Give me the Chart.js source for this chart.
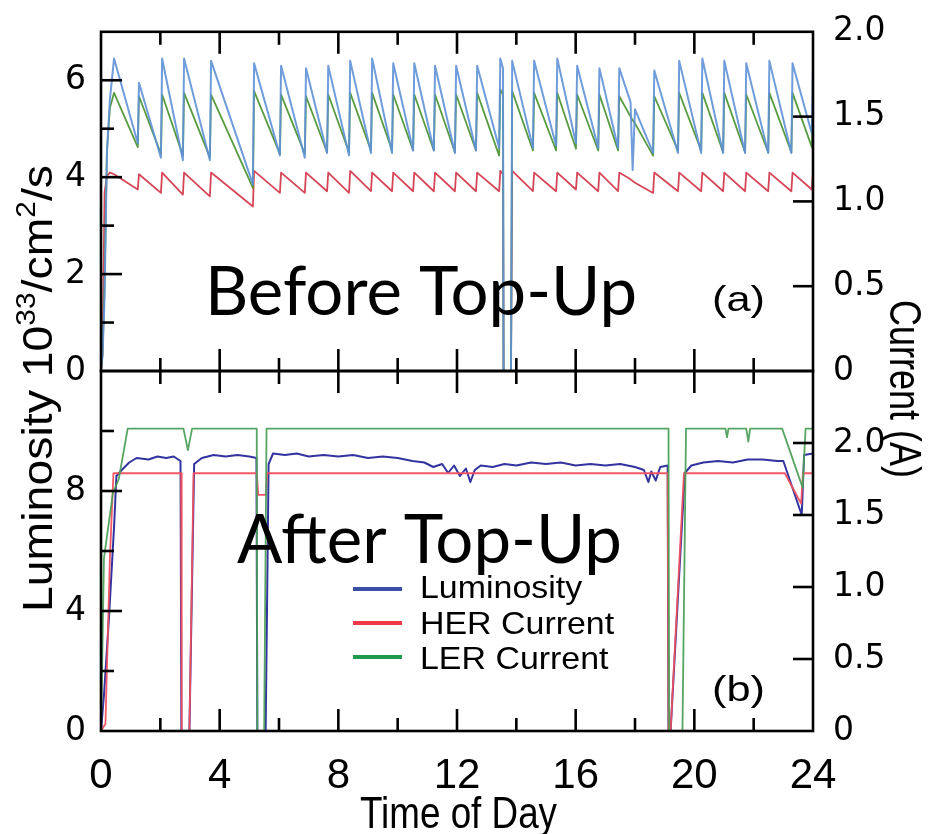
<!DOCTYPE html>
<html><head><meta charset="utf-8">
<script src="https://cdn.jsdelivr.net/npm/chart.js@4"></script>
<style>
html,body{margin:0;padding:0;background:#fff;}
#wrap{position:relative;width:942px;height:834px;overflow:hidden;}
canvas{position:absolute;left:0;top:0;}
</style></head><body>
<div id="wrap"><canvas id="cTop" width="942" height="834"></canvas><canvas id="cBot" width="942" height="834"></canvas></div>
<script>
// ---------- DATA ----------
const xTickLabels = [0, 4, 8, 12, 16, 20, 24];
const topLumTickLabels = [0, 2, 4, 6];
const botLumTickLabels = [0, 4, 8];
const currentTickLabels = [0, 0.5, 1.0, 1.5, 2.0];
const seriesNames = ['Luminosity', 'HER Current', 'LER Current'];

// Before Top-Up (panel a): time of day (h)
const topTime = [
  0, 0.05, 0.12, 0.20, 0.30, 0.44,
  1.24, 1.28,  2.02, 2.06,  2.76, 2.80,  3.67, 3.71,  5.12, 5.16,
  6.03, 6.07,  6.87, 6.91,  7.62, 7.66,  8.36, 8.40,  9.10, 9.14,
  9.81, 9.85,  10.52, 10.56,  11.22, 11.26,  11.93, 11.97,  12.64, 12.68,  13.42, 13.46,
  13.55, 13.57, 13.82, 13.86,
  14.56, 14.60,  15.34, 15.38,  16.01, 16.05,  16.76, 16.80,  17.43, 17.47,
  17.85, 17.92, 18.00,
  18.61, 18.65,  19.45, 19.49,  20.23, 20.27,  20.97, 21.01,  21.71, 21.75,  22.49, 22.53,  23.27, 23.31,
  23.96, 24.0
];
// luminosity (10^33/cm^2/s)
const topLum = [
  0, 0.3, 1.5, 4.5, 5.6, 6.45,
  4.7, 5.95,  4.4, 6.45,  4.35, 6.45,  4.35, 6.4,  3.85, 6.35,
  4.45, 6.3,  4.4, 6.25,  4.5, 6.3,  4.45, 6.4,  4.5, 6.45,
  4.5, 6.35,  4.55, 6.35,  4.55, 6.3,  4.5, 6.3,  4.55, 6.3,  4.6, 6.45,
  6.25, 0, 0, 6.4,
  4.6, 6.4,  4.65, 6.45,  4.7, 6.3,  4.6, 6.25,  4.6, 6.25,
  5.55, 4.15, 5.4,
  4.5, 6.2,  4.5, 6.4,  4.5, 6.45,  4.5, 6.4,  4.5, 6.35,  4.5, 6.4,  4.5, 6.35,
  4.9, 6.3
];
// HER current (A)
const topHer = [
  0, 0.1, 1.05, 1.15, 1.17, 1.16,
  1.07, 1.16,  1.05, 1.17,  1.04, 1.17,  1.03, 1.17,  0.97, 1.18,
  1.05, 1.17,  1.05, 1.17,  1.06, 1.17,  1.05, 1.18,  1.06, 1.17,
  1.06, 1.17,  1.06, 1.17,  1.06, 1.17,  1.06, 1.17,  1.06, 1.17,  1.06, 1.18,
  1.16, 0, 0, 1.18,
  1.06, 1.17,  1.06, 1.17,  1.07, 1.17,  1.06, 1.17,  1.06, 1.17,
  1.13, 1.12, 1.11,
  1.05, 1.17,  1.06, 1.17,  1.06, 1.17,  1.06, 1.17,  1.06, 1.17,  1.06, 1.17,  1.06, 1.17,
  1.07, 1.17
];
// LER current (A)
const topLer = [
  0, 0.1, 0.5, 1.3, 1.55, 1.64,
  1.32, 1.62,  1.28, 1.63,  1.27, 1.64,  1.26, 1.63,  1.08, 1.65,
  1.28, 1.63,  1.28, 1.62,  1.29, 1.63,  1.29, 1.64,  1.30, 1.64,
  1.30, 1.63,  1.30, 1.63,  1.30, 1.63,  1.29, 1.63,  1.30, 1.64,  1.27, 1.66,
  1.63, 0, 0, 1.65,
  1.30, 1.64,  1.30, 1.64,  1.31, 1.63,  1.30, 1.63,  1.30, 1.62,
  1.50, 1.48, 1.46,
  1.27, 1.62,  1.30, 1.64,  1.30, 1.64,  1.29, 1.64,  1.29, 1.63,  1.29, 1.64,  1.29, 1.64,
  1.32, 1.60
];

// After Top-Up (panel b)
const botLumTime = [0, 0.1, 0.27, 0.44, 0.52, 0.7, 0.95, 1.2, 1.6, 1.9, 2.2, 2.45, 2.68, 2.71, 2.98, 3.14, 3.4, 3.8, 4.2, 4.6, 5.0, 5.24, 5.27, 5.55, 5.65, 5.8,
  6.2, 6.6, 7.0, 7.5, 8.0, 8.5, 9.0, 9.5, 10.0, 10.5, 10.9, 11.2, 11.5, 11.7, 11.9, 12.1, 12.3, 12.45, 12.6, 12.8, 13.2, 13.6, 14.0, 14.5, 15.0, 15.5, 16.0, 16.5, 17.0, 17.5,
  18.0, 18.3, 18.45, 18.55, 18.7, 18.85, 19.1, 19.13, 19.2, 19.45, 19.68, 19.9, 20.3, 20.8, 21.3, 21.8, 22.3, 22.8, 23.0, 23.62, 23.7, 24.0];
const botLum = [0, 1.2, 3.8, 6.8, 8.5, 8.7, 8.95, 9.1, 9.05, 9.15, 9.1, 9.15, 9.0, 0, 0, 8.9, 9.1, 9.2, 9.15, 9.2, 9.15, 9.1, 0, 0, 8.9, 9.25,
  9.2, 9.25, 9.15, 9.2, 9.15, 9.2, 9.1, 9.15, 9.1, 9.0, 8.95, 8.8, 8.9, 8.6, 8.85, 8.5, 8.75, 8.3, 8.7, 8.85, 8.8, 8.9, 8.85, 8.95, 8.9, 8.95, 8.85, 8.9, 8.85, 8.9,
  8.8, 8.7, 8.3, 8.65, 8.35, 8.8, 8.85, 0, 0, 4.5, 8.6, 8.85, 8.95, 9.0, 8.95, 9.05, 9.05, 9.0, 9.0, 7.2, 9.2, 9.25];
const botHerTime = [0, 0.15, 0.3, 0.42, 2.7, 2.72, 2.98, 3.12, 5.25, 5.3, 5.55, 5.6, 19.1, 19.13, 19.2, 19.65, 23.05, 23.6, 23.66, 24.0];
const botHer = [0, 0.05, 1.2, 1.79, 1.79, 0, 0, 1.79, 1.79, 1.64, 1.64, 1.79, 1.79, 0, 0, 1.79, 1.79, 1.58, 1.79, 1.79];
const botLerTime = [0, 0.1, 0.4, 0.6, 0.9, 2.78, 2.93, 3.07, 5.25, 5.27, 5.5, 5.58, 19.13, 19.15, 19.6, 19.72, 21.05, 21.1, 21.15, 21.75, 21.82, 21.88, 22.96, 23.65, 23.75, 24.0];
const botLer = [0, 1.2, 1.65, 1.75, 2.1, 2.1, 1.95, 2.1, 2.1, 0, 0, 2.1, 2.1, 0, 0, 2.1, 2.1, 2.04, 2.1, 2.1, 2.01, 2.1, 2.1, 1.69, 2.1, 2.1];

// ---------- HELPERS ----------
const pts = (xs, ys) => xs.map((x, i) => ({x: x, y: ys[i]}));
const TICKFONT = {family: "'DejaVu Sans', sans-serif", size: 33};
const XFONT = {family: "'Liberation Sans', Arial, sans-serif", size: 42};
const curFmt = v => currentTickLabels.includes(v) ? (v === 0 ? '0' : v.toFixed(1)) : '';

const frameTicks = {
  id: 'frameTicks',
  afterDatasetsDraw(chart, args, o) {
    const {ctx, chartArea: a, scales} = chart;
    ctx.save();
    ctx.strokeStyle = '#000';
    ctx.lineWidth = 2.6;
    ctx.lineCap = 'butt';
    const seg = (x1, y1, x2, y2) => { ctx.beginPath(); ctx.moveTo(x1, y1); ctx.lineTo(x2, y2); ctx.stroke(); };
    const xs = scales.x;
    xs.ticks.forEach(t => {
      if (t.value <= xs.min || t.value >= xs.max) return;
      const p = xs.getPixelForValue(t.value);
      const len = xTickLabels.includes(t.value) ? 22 : 13;
      seg(p, a.bottom, p, a.bottom - len);
      seg(p, a.top, p, a.top + len);
    });
    const yl = scales.yL;
    yl.ticks.forEach(t => {
      if (t.value <= yl.min || t.value >= yl.max) return;
      const p = yl.getPixelForValue(t.value);
      const len = o.leftLabels.includes(t.value) ? 21 : 13;
      seg(a.left, p, a.left + len, p);
    });
    const yr = scales.yR;
    yr.ticks.forEach(t => {
      if (t.value <= yr.min || t.value >= yr.max) return;
      const p = yr.getPixelForValue(t.value);
      seg(a.right, p, a.right - 20, p);
    });
    ctx.strokeRect(a.left, a.top, a.right - a.left, a.bottom - a.top);
    ctx.restore();
  }
};

function scalesFor(cfg) {
  return {
    x: {
      type: 'linear', min: 0, max: 24,
      afterFit: s => { s.height = cfg.xH; },
      ticks: {display: cfg.showX, stepSize: 2, autoSkip: false, maxRotation: 0, minRotation: 0,
        padding: 12, color: '#000', font: XFONT,
        callback: v => xTickLabels.includes(v) ? String(v) : ''},
      grid: {display: false}, border: {display: false}
    },
    yL: {
      type: 'linear', position: 'left', min: 0, max: cfg.lMax,
      afterFit: s => { s.width = 101; },
      ticks: {stepSize: cfg.lStep, autoSkip: false, padding: 7, color: '#000', font: TICKFONT,
        callback: v => cfg.lLabels.includes(v) ? String(v) : ''},
      grid: {display: false}, border: {display: false}
    },
    yR: {
      type: 'linear', position: 'right', min: 0, max: cfg.rMax,
      afterFit: s => { s.width = 129; },
      ticks: {stepSize: 0.5, autoSkip: false, padding: 12, color: '#000', font: TICKFONT, callback: curFmt},
      grid: {display: false}, border: {display: false}
    }
  };
}

// scaled text helper (x,y = baseline start in local frame)
function txt(ctx, s, x, y, font, w) {
  ctx.font = font;
  const m = ctx.measureText(s).width;
  ctx.save();
  ctx.translate(x, y);
  if (w) ctx.scale(w / m, 1);
  ctx.fillText(s, 0, 0);
  ctx.restore();
}

const annotations = {
  id: 'annotations',
  afterDraw(chart) {
    const ctx = chart.ctx;
    ctx.save();
    ctx.fillStyle = '#000';
    ctx.textBaseline = 'alphabetic';
    ctx.textAlign = 'left';
    const big = "67px Lato, 'Open Sans', sans-serif";
    txt(ctx, 'Before Top-Up', 205, 315, big, 432);
    txt(ctx, 'After Top-Up', 237, 563, big, 385);
    txt(ctx, '(a)', 712, 311, "35px 'Liberation Sans', Arial, sans-serif", 53);
    txt(ctx, '(b)', 712, 701, "35px 'Liberation Sans', Arial, sans-serif", 53);

    // legend
    const legCols = ['#3a4fa8', '#ee3a48', '#1f9a4c'];
    const legLineY = [589, 623, 657];
    const legTextY = [598, 634, 669];
    ctx.lineWidth = 4;
    seriesNames.forEach((n, i) => {
      ctx.strokeStyle = legCols[i];
      ctx.beginPath(); ctx.moveTo(353, legLineY[i]); ctx.lineTo(402, legLineY[i]); ctx.stroke();
      ctx.font = "32px 'Liberation Sans', Arial, sans-serif";
      const m = ctx.measureText(n).width;
      txt(ctx, n, 420, legTextY[i], ctx.font, m * 1.06);
    });

    // x title
    txt(ctx, 'Time of Day', 360, 828, "45px 'Liberation Sans', Arial, sans-serif", 197);

    // left title (rotated, with superscripts)
    const parts = [
      ['Luminosity 10', 42, 0], ['33', 27, 17], ['/cm', 42, 0], ['2', 27, 17], ['/s', 42, 0]
    ];
    let total = 0;
    parts.forEach(p => { ctx.font = p[1] + "px 'Liberation Sans', Arial, sans-serif"; p.push(ctx.measureText(p[0]).width); total += p[3]; });
    ctx.save();
    ctx.translate(52, 612);
    ctx.rotate(-Math.PI / 2);
    ctx.scale(447 / total, 1);
    let cx = 0;
    parts.forEach(p => {
      ctx.font = p[1] + "px 'Liberation Sans', Arial, sans-serif";
      ctx.fillText(p[0], cx, -p[2]);
      cx += p[3];
    });
    ctx.restore();

    // right title
    ctx.save();
    ctx.translate(890, 300);
    ctx.rotate(Math.PI / 2);
    txt(ctx, 'Current (A)', 0, 0, "44px 'Liberation Sans', Arial, sans-serif", 178);
    ctx.restore();
    ctx.restore();
  }
};

const baseOptions = {
  responsive: false, animation: false, devicePixelRatio: 1,
  elements: {point: {radius: 0}, line: {tension: 0, borderJoinStyle: 'round'}}
};

new Chart(document.getElementById('cTop'), {
  type: 'line',
  data: {
    datasets: [
      {label: seriesNames[0], data: pts(topTime, topLum), yAxisID: 'yL', borderColor: 'rgba(95,145,215,0.9)', borderWidth: 2},
      {label: seriesNames[2], data: pts(topTime, topLer), yAxisID: 'yR', borderColor: 'rgba(80,150,55,0.95)', borderWidth: 1.8},
      {label: seriesNames[1], data: pts(topTime, topHer), yAxisID: 'yR', borderColor: 'rgba(212,60,80,0.95)', borderWidth: 1.8}
    ]
  },
  options: Object.assign({}, baseOptions, {
    layout: {padding: {top: 29, left: 0, right: 0, bottom: 0}},
    scales: scalesFor({xH: 834 - 371, showX: false, lMax: 7, lStep: 1, lLabels: topLumTickLabels, rMax: 2.0}),
    plugins: {legend: {display: false}, tooltip: {enabled: false}, frameTicks: {leftLabels: topLumTickLabels}}
  }),
  plugins: [frameTicks]
});

new Chart(document.getElementById('cBot'), {
  type: 'line',
  data: {
    datasets: [
      {label: seriesNames[2], data: pts(botLerTime, botLer), yAxisID: 'yR', borderColor: 'rgba(78,160,90,0.95)', borderWidth: 1.8},
      {label: seriesNames[1], data: pts(botHerTime, botHer), yAxisID: 'yR', borderColor: 'rgba(240,80,95,0.95)', borderWidth: 1.8},
      {label: seriesNames[0], data: pts(botLumTime, botLum), yAxisID: 'yL', borderColor: 'rgba(40,40,155,0.95)', borderWidth: 2}
    ]
  },
  options: Object.assign({}, baseOptions, {
    layout: {padding: {top: 371, left: 0, right: 0, bottom: 0}},
    scales: scalesFor({xH: 834 - 731, showX: true, lMax: 12, lStep: 2, lLabels: botLumTickLabels, rMax: 2.5}),
    plugins: {legend: {display: false}, tooltip: {enabled: false}, frameTicks: {leftLabels: botLumTickLabels}}
  }),
  plugins: [frameTicks, annotations]
});
</script>
</body></html>
